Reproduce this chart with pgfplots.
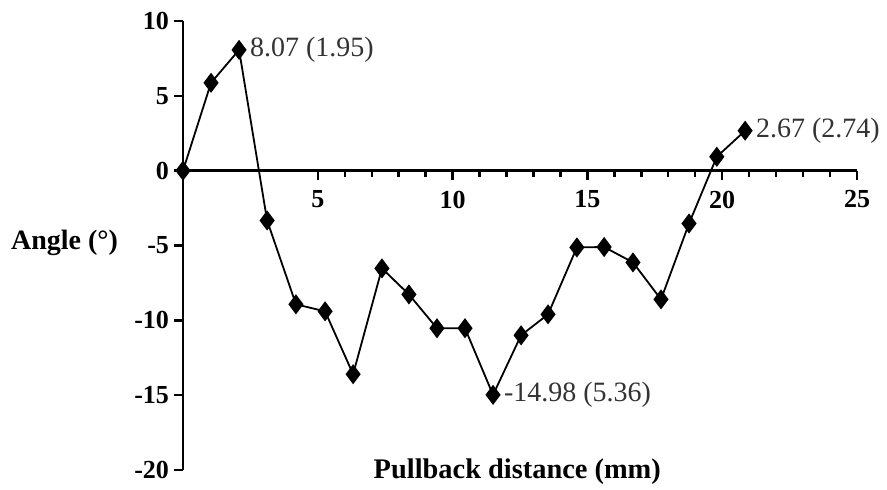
\documentclass[border=0pt]{standalone}
\usepackage{fontspec}
\setmainfont{Liberation Serif}
\usepackage{pgfplots}
\pgfplotsset{compat=1.18}

\begin{document}
\begin{tikzpicture}
\begin{axis}[
    scale only axis,
    width=337pt, height=224.5pt,
    xmin=0, xmax=25, ymin=-20, ymax=10,
    axis x line=middle, axis y line=left,
    axis line style={-, line width=1.4pt},
    xtick={5,10,...,25}, minor x tick num=4,
    ytick={-20,-15,...,10},
    tick align=outside,
    major tick length=4.5pt, minor tick length=3pt,
    tick style={line width=1.2pt, black},
    ticklabel style={font=\bfseries\fontsize{13}{14}\selectfont},
    xticklabel style={yshift=-2pt},
    yticklabel style={xshift=1pt},
    /pgf/number format/assume math mode=true,
    xlabel={Pullback distance (mm)},
    ylabel={Angle (°)},
    every axis x label/.style={at={(axis description cs:0.496,-0.004)}, anchor=center,
        font=\bfseries\fontsize{14.2}{15}\selectfont},
    every axis y label/.style={at={(axis description cs:-0.086,0.505)}, anchor=east,
        font=\bfseries\fontsize{14}{15}\selectfont},
    clip=false,
]
\addplot[black, line width=0.9pt, mark=diamond*, mark size=4.3pt] coordinates {
    (0,0) (1.04,5.87) (2.08,8.07) (3.12,-3.33) (4.19,-8.93) (5.27,-9.4)
    (6.31,-13.6) (7.38,-6.53) (8.38,-8.27) (9.42,-10.53) (10.46,-10.53)
    (11.5,-14.98) (12.54,-11.0) (13.54,-9.6) (14.61,-5.13) (15.62,-5.1)
    (16.69,-6.13) (17.73,-8.6) (18.77,-3.53) (19.8,0.93) (20.85,2.67)
};
\node[anchor=west, text=black!80, font=\fontsize{14}{15}\selectfont, xshift=2pt] at (axis cs:2.08,8.07) {8.07 (1.95)};
\node[anchor=west, text=black!80, font=\fontsize{14}{15}\selectfont, xshift=2pt] at (axis cs:11.5,-14.98) {-14.98 (5.36)};
\node[anchor=west, text=black!80, font=\fontsize{14}{15}\selectfont, xshift=2pt] at (axis cs:20.85,2.67) {2.67 (2.74)};
\coordinate (O) at (rel axis cs:0,0);
\end{axis}
\pgfresetboundingbox
\path ([shift={(-91.5pt,-10pt)}]O) rectangle ([shift={(352pt,235pt)}]O);
\end{tikzpicture}
\end{document}
